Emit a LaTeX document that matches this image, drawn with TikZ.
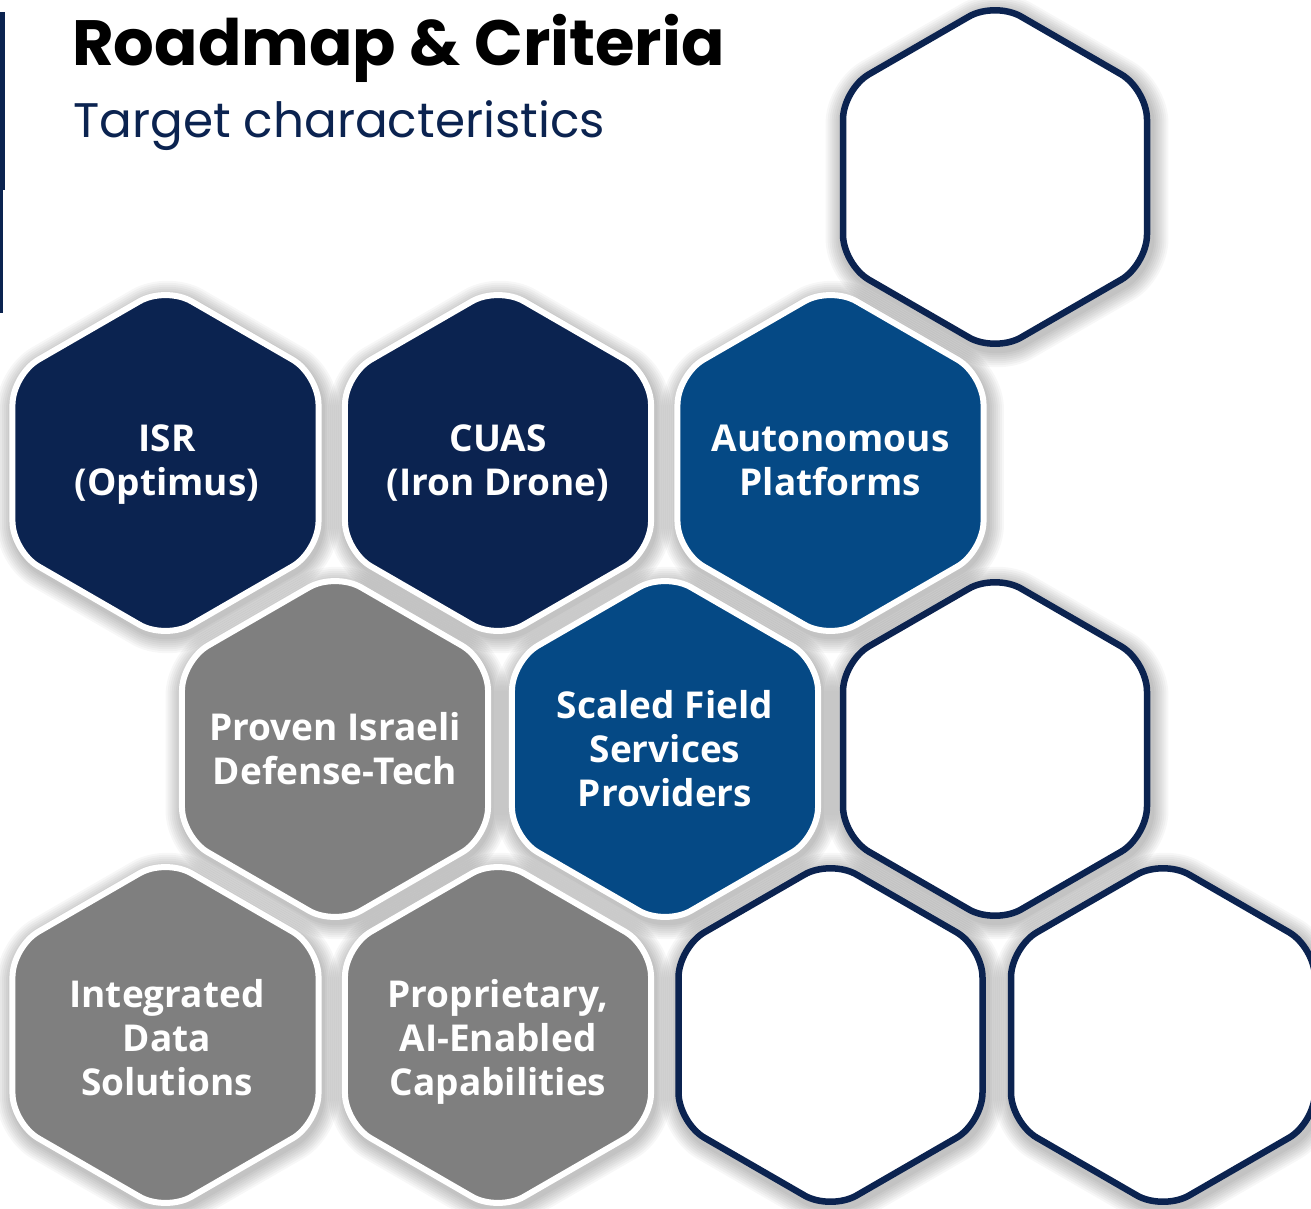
\documentclass[tikz,border=0pt]{standalone}
\usepackage{fontspec}
\setmainfont{Open Sans}
\newfontfamily\pop{Poppins}
\definecolor{navy}{HTML}{0B2350}
\definecolor{mblue}{HTML}{054985}
\definecolor{hgray}{HTML}{7F7F7F}
\newcommand\hexpath[3]{(#1-0.8660254*#3,#2) -- (#1-0.8660254*#3,#2-0.5*#3) -- (#1,#2-#3) -- (#1+0.8660254*#3,#2-0.5*#3) -- (#1+0.8660254*#3,#2+0.5*#3) -- (#1,#2+#3) -- (#1-0.8660254*#3,#2+0.5*#3) -- cycle}
\tikzset{
  hexlabel/.style={text=white, font=\fontsize{37}{44}\selectfont\bfseries, align=center, inner sep=0pt},
  colhex/.style={fill=#1, draw=white, line width=6pt, rounded corners=30pt},
  openhex/.style={fill=white, draw=navy, line width=6.5pt, rounded corners=30pt},
  shadowring/.style={draw=black, opacity=0.03, rounded corners=30pt}
}
\begin{document}
\begin{tikzpicture}[x=1pt,y=-1pt]
\useasboundingbox (0,0) rectangle (1311,1208);
\clip (0,0) rectangle (1311,1208);
\fill[white] (0,0) rectangle (1311,1208);
% left accent bar
\fill[navy] (0,12) rectangle (5,190);
\fill[navy] (0,190) rectangle (3,313);
% titles
\node[anchor=base west, inner sep=0pt, font=\pop\bfseries\fontsize{64}{68}\selectfont, text=black] (title) at (72,65) {Roadmap \& Criteria};
\node[anchor=base west, inner sep=0pt, font=\pop\fontsize{48.5}{52}\selectfont, text=navy] (subtitle) at (73,137) {Target characteristics};
% shadows
\foreach \cx/\cy in {995/177, 165.5/463, 498/463, 830.5/463, 335/749, 665/749, 995/749, 165.5/1035, 498/1035, 830.5/1035, 1163/1035}{
  \foreach \k in {1,...,8}{
    \pgfmathsetmacro\lw{6+4*\k}
    \path[shadowring, line width=\lw pt] \hexpath{\cx+2}{\cy+4}{176};
  }
}
% filled hexagons
\path[colhex=navy]  \hexpath{165.5}{463}{176.7};
\path[colhex=navy]  \hexpath{498}{463}{176.7};
\path[colhex=mblue] \hexpath{830.5}{463}{176.7};
\path[colhex=hgray] \hexpath{335}{749}{176.7};
\path[colhex=mblue] \hexpath{665}{749}{176.7};
\path[colhex=hgray] \hexpath{165.5}{1035}{176.7};
\path[colhex=hgray] \hexpath{498}{1035}{176.7};
% open hexagons
\path[openhex] \hexpath{995}{177}{175.5};
\path[openhex] \hexpath{995}{749}{175.5};
\path[openhex] \hexpath{830.5}{1035}{175.5};
\path[openhex] \hexpath{1163}{1035}{175.5};
% labels
\node[hexlabel] (isr)  at (167,465) {ISR\\(Optimus)};
\node[hexlabel] (cuas) at (498,463) {CUAS\\(Iron Drone)};
\node[hexlabel] (auto) at (830.5,460) {Autonomous\\Platforms};
\node[hexlabel] (prov) at (335,749) {Proven Israeli\\Defense-Tech};
\node[hexlabel] (scal) at (665,749) {Scaled Field\\Services\\Providers};
\node[hexlabel] (intg) at (167,1038) {Integrated\\Data\\Solutions};
\node[hexlabel] (prop) at (498,1042) {Proprietary,\\AI-Enabled\\Capabilities};
\end{tikzpicture}
\end{document}
